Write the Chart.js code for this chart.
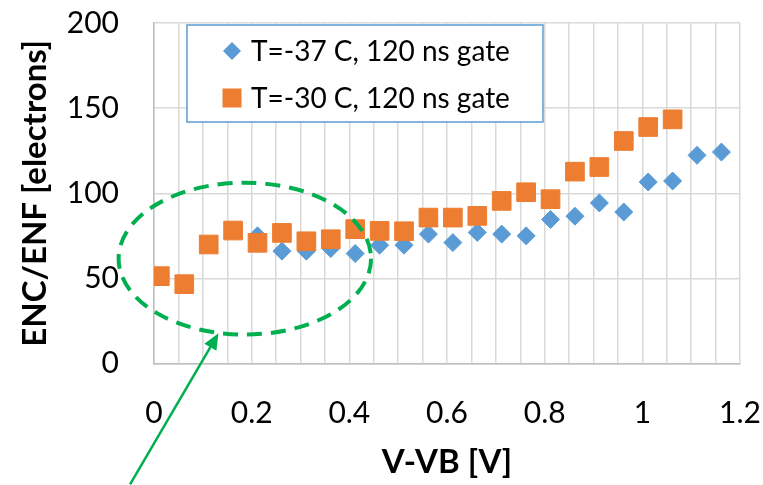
<!DOCTYPE html>
<html>
<head>
<meta charset="utf-8">
<script src="https://cdn.jsdelivr.net/npm/chart.js@4.4.1/dist/chart.umd.min.js"></script>
<style>
  html, body { margin: 0; padding: 0; background: #fff; }
  #wrap { width: 763px; height: 485px; }
</style>
</head>
<body>
<div id="wrap"><canvas id="chart" width="763" height="485"></canvas></div>
<script>
// series (V-VB in volts, noise in electrons)
const coldLabel = 'T=-37 C, 120 ns gate';
const coldX = [0.212, 0.262, 0.312, 0.362, 0.412, 0.462, 0.512, 0.562, 0.612, 0.662,
               0.712, 0.762, 0.812, 0.862, 0.912, 0.962, 1.012, 1.062, 1.112, 1.162];
const coldEnc = [75, 66, 66, 67.5, 64.6, 69.5, 69.5, 76, 71, 77,
                 76, 75, 84.6, 86.5, 94.3, 89, 106.6, 107.2, 122.3, 124.2];

const warmLabel = 'T=-30 C, 120 ns gate';
const warmX = [0.012, 0.062, 0.112, 0.162, 0.212, 0.262, 0.312, 0.362, 0.412, 0.462, 0.512,
               0.562, 0.612, 0.662, 0.712, 0.762, 0.812, 0.862, 0.912, 0.962, 1.012, 1.062];
const warmEnc = [51.3, 46.6, 69.9, 78.1, 70.9, 76.7, 71.8, 73, 78.9, 77.9, 77.7,
                 85.7, 85.7, 86.7, 95.5, 100.6, 96.5, 112.7, 115.4, 130.7, 138.9, 143.4];

// axis ticks
const xLabelled = [0, 0.2, 0.4, 0.6, 0.8, 1, 1.2];
const yTicks = [0, 50, 100, 150, 200];

const BLUE = '#5B9BD5';
const ORANGE = '#ED7D31';
const GREEN = '#00B050';
const FONT = 'Lato, "Open Sans", sans-serif';

function toPoints(xs, ys) {
    return xs.map((x, i) => ({ x: x, y: ys[i] }));
}

// the scales add tick padding to the outer margins; drop that so the plot keeps its size
function noEdgePadding(s) {
    s.paddingTop = 0;
    s.paddingBottom = 0;
    s.paddingLeft = 0;
    s.paddingRight = 0;
}

// green dashed ring and arrow, placed in data units
const ring = { cx: 0.186, cy: 61.6, rx: 0.2585, ry: 44.6 };
const arrow = { fromX: -0.049, fromY: -71, toX: 0.132, toY: 17.7 };

const notesPlugin = {
    id: 'notes',
    afterDatasetsDraw(chart) {
        const ctx = chart.ctx;
        const xs = chart.scales.x, ys = chart.scales.y;

        // dashed ellipse
        const cx = xs.getPixelForValue(ring.cx), cy = ys.getPixelForValue(ring.cy);
        const rx = xs.getPixelForValue(ring.cx + ring.rx) - cx;
        const ry = cy - ys.getPixelForValue(ring.cy + ring.ry);
        ctx.save();
        ctx.strokeStyle = GREEN;
        ctx.lineWidth = 4;
        ctx.setLineDash([15, 9]);
        ctx.beginPath();
        ctx.ellipse(cx, cy, rx, ry, 0, 0, Math.PI * 2);
        ctx.stroke();
        ctx.restore();

        // arrow
        const x0 = xs.getPixelForValue(arrow.fromX), y0 = ys.getPixelForValue(arrow.fromY);
        const x1 = xs.getPixelForValue(arrow.toX), y1 = ys.getPixelForValue(arrow.toY);
        const ang = Math.atan2(y1 - y0, x1 - x0);
        const headLen = 16, headHalf = 7;
        const bx = x1 - headLen * Math.cos(ang), by = y1 - headLen * Math.sin(ang);
        ctx.save();
        ctx.strokeStyle = GREEN;
        ctx.fillStyle = GREEN;
        ctx.lineWidth = 2.5;
        ctx.beginPath();
        ctx.moveTo(x0, y0);
        ctx.lineTo(bx, by);
        ctx.stroke();
        ctx.beginPath();
        ctx.moveTo(x1, y1);
        ctx.lineTo(bx + headHalf * Math.sin(ang), by - headHalf * Math.cos(ang));
        ctx.lineTo(bx - headHalf * Math.sin(ang), by + headHalf * Math.cos(ang));
        ctx.closePath();
        ctx.fill();
        ctx.restore();
    }
};

// boxed legend inside the plot area
const boxLegendPlugin = {
    id: 'boxLegend',
    afterDraw(chart) {
        const ctx = chart.ctx;
        const area = chart.chartArea;
        const left = area.left + 33, top = area.top + 2;
        const w = 356, h = 97;
        ctx.save();
        ctx.fillStyle = '#fff';
        ctx.fillRect(left, top, w, h);
        ctx.strokeStyle = BLUE;
        ctx.lineWidth = 1.5;
        ctx.strokeRect(left, top, w, h);

        ctx.font = '28px ' + FONT;
        ctx.textBaseline = 'middle';
        chart.data.datasets.forEach((ds, i) => {
            const rowY = top + 26 + i * 47;
            const mx = left + 45;
            ctx.fillStyle = ds.backgroundColor;
            ctx.beginPath();
            if (ds.pointStyle === 'rectRot') {
                ctx.moveTo(mx - 9, rowY);
                ctx.lineTo(mx, rowY - 9);
                ctx.lineTo(mx + 9, rowY);
                ctx.lineTo(mx, rowY + 9);
                ctx.closePath();
            } else {
                ctx.rect(mx - 9.5, rowY - 9.5, 19, 19);
            }
            ctx.fill();
            ctx.fillStyle = '#000';
            ctx.fillText(ds.label, left + 64, rowY + 1);
        });
        ctx.restore();
    }
};

const ctx = document.getElementById('chart').getContext('2d');
new Chart(ctx, {
    type: 'scatter',
    data: {
        datasets: [{
            label: coldLabel,
            data: toPoints(coldX, coldEnc),
            pointStyle: 'rectRot',
            pointRadius: 9,
            backgroundColor: BLUE,
            borderColor: BLUE,
            borderWidth: 1,
            order: 2
        }, {
            label: warmLabel,
            data: toPoints(warmX, warmEnc),
            pointStyle: 'rect',
            pointRadius: 13.2,
            backgroundColor: ORANGE,
            borderColor: ORANGE,
            borderWidth: 1,
            order: 1
        }]
    },
    options: {
        responsive: false,
        animation: false,
        layout: { padding: { top: 23, right: 23, left: 0, bottom: 0 } },
        plugins: {
            legend: { display: false },
            tooltip: { enabled: false }
        },
        scales: {
            x: {
                type: 'linear',
                min: 0,
                max: 1.2,
                afterFit: (s) => { s.height = 121.5; noEdgePadding(s); },
                grid: { color: '#d9d9d9', lineWidth: 1.5, drawTicks: false },
                border: { color: '#bfbfbf', width: 1.5 },
                ticks: {
                    stepSize: 0.05,
                    autoSkip: false,
                    maxRotation: 0,
                    padding: 32,
                    color: '#000',
                    font: { family: FONT, size: 30 },
                    callback: (v) => {
                        const r = Math.round(v * 100) / 100;
                        return xLabelled.includes(r) ? String(r) : '';
                    }
                },
                title: {
                    display: true,
                    text: 'V-VB [V]',
                    color: '#000',
                    font: { family: FONT, size: 33, weight: 'bold', lineHeight: 1.2 },
                    padding: { top: 0, bottom: 3 }
                }
            },
            y: {
                min: 0,
                max: 200,
                afterFit: (s) => { s.width = 154; noEdgePadding(s); },
                afterBuildTicks: (s) => { s.ticks = yTicks.map(v => ({ value: v })); },
                grid: { color: '#d9d9d9', lineWidth: 1.5, drawTicks: false },
                border: { color: '#bfbfbf', width: 1.5 },
                ticks: {
                    padding: 35,
                    color: '#000',
                    font: { family: FONT, size: 30 }
                },
                title: {
                    display: true,
                    text: 'ENC/ENF [electrons]',
                    color: '#000',
                    font: { family: FONT, size: 33, weight: 'bold', lineHeight: 1.2 },
                    padding: { top: 16, bottom: 0 }
                }
            }
        }
    },
    plugins: [notesPlugin, boxLegendPlugin]
});
</script>
</body>
</html>
